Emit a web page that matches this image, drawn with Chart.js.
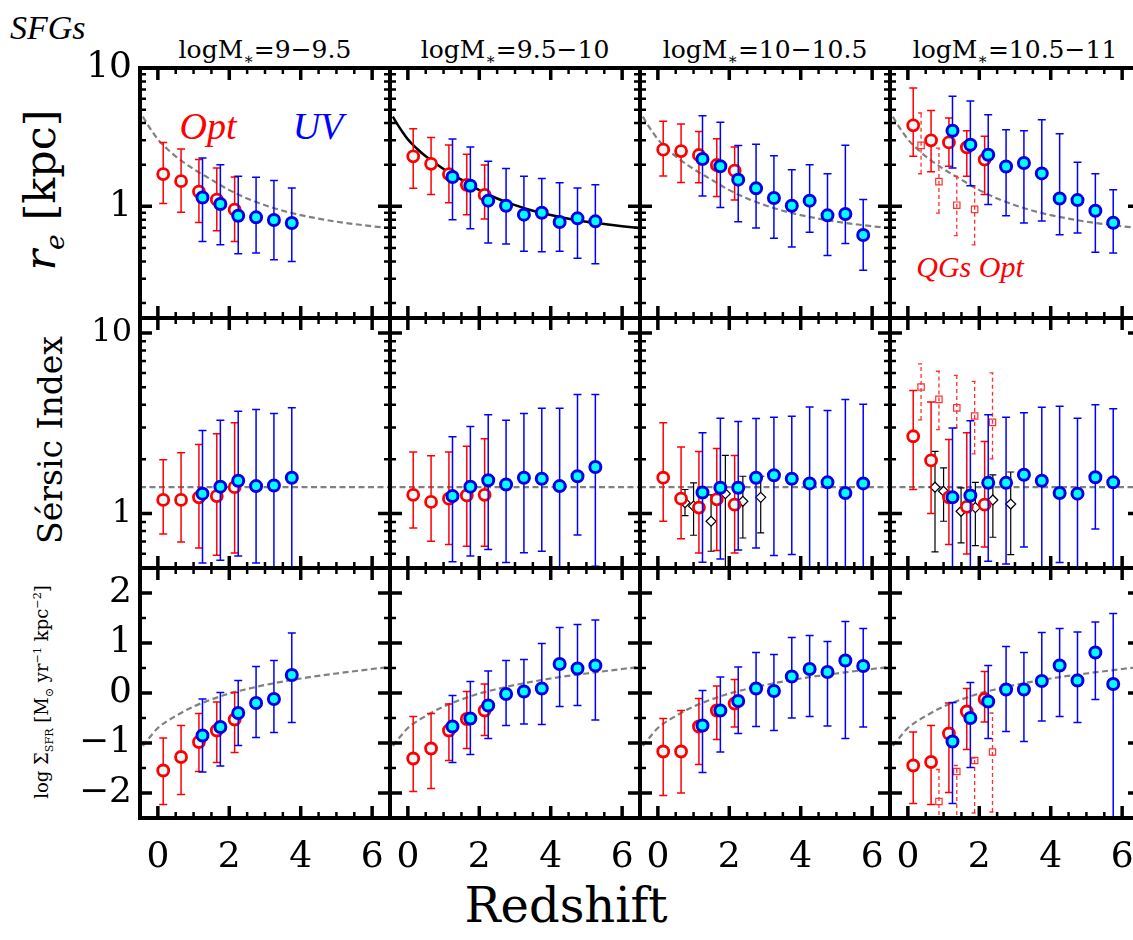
<!DOCTYPE html>
<html>
<head>
<meta charset="utf-8">
<title>SFGs structural evolution</title>
<script src="https://cdn.jsdelivr.net/npm/chart.js@4.4.1/dist/chart.umd.min.js"></script>
<style>
  html, body { margin: 0; padding: 0; background: #fff; }
  #fig { position: relative; width: 1133px; height: 940px; overflow: hidden; font-family: "DejaVu Serif", serif; color: #000; }
  #fig canvas { position: absolute; }
  .txt { position: absolute; white-space: nowrap; line-height: 1; }
  .mid { transform: translate(-50%, -50%); }
  .rot { transform: translate(-50%, -50%) rotate(-90deg); }
  sub, sup { font-size: 0.62em; line-height: 0; }
</style>
</head>
<body>
<div id="fig">
  <div class="txt" style="left:10px;top:9px;font:italic 34px 'Liberation Serif'">SFGs</div>
  <div class="txt rot" style="left:40px;top:190px;font-size:43px"><i>r</i><sub><i>e</i></sub> [kpc]</div>
  <div class="txt rot" style="left:50px;top:440px;font-size:33px">Sérsic Index</div>
  <div class="txt rot" style="left:42px;top:692px;font-size:18px">log Σ<sub>SFR</sub> [M<sub>⊙</sub> yr<sup>−1</sup> kpc<sup>−2</sup>]</div>
  <div class="txt" style="left:566px;top:881px;font-size:48px;transform:translateX(-50%)">Redshift</div>
  <div class="txt mid" style="left:208px;top:126px;font:italic 38px 'Liberation Serif';color:#ff0000">Opt</div>
  <div class="txt mid" style="left:318px;top:126px;font:italic 38px 'Liberation Serif';color:#0000ff">UV</div>
  <div class="txt mid" style="left:970px;top:267px;font:italic 30px 'Liberation Serif';color:#ff0000">QGs Opt</div>
</div>
<script>

/* =========================
   DATA
========================= */

const massLo = ["9", "9.5", "10", "10.5"];
const massHi = ["9.5", "10", "10.5", "11"];

// redshift of each bin
const zOpt = [0.15, 0.65, 1.15, 1.65, 2.15];
const zUV = [1.25, 1.75, 2.25, 2.75, 3.25, 3.75, 4.25, 4.75, 5.25, 5.75];
const zQG = [0.37, 0.87, 1.37, 1.87, 2.37];
const zDia = [0.76, 1.0, 1.49, 1.89, 2.38, 2.88];

// each entry: [value, lower end of error bar, upper end of error bar]

// r_e [kpc]
const reOpt1 = [[1.71, 1.05, 2.90], [1.52, 0.905, 2.60], [1.28, 0.766, 2.18], [1.12, 0.667, 1.89], [0.946, 0.558, 1.63]];
const reUV1 = [[1.16, 0.558, 2.24], [1.04, 0.528, 2.00], [0.856, 0.455, 1.65], [0.833, 0.46, 1.62], [0.797, 0.412, 1.54], [0.758, 0.40, 1.36]];
const reOpt2 = [[2.30, 1.35, 3.64], [2.03, 1.22, 3.15], [1.71, 1.06, 2.78], [1.43, 0.871, 2.38], [1.21, 0.81, 1.99]];
const reUV2 = [[1.63, 0.80, 3.07], [1.41, 0.69, 2.69], [1.10, 0.543, 2.12], [1.01, 0.534, 1.88], [0.871, 0.473, 1.65], [0.90, 0.47, 1.59], [0.77, 0.473, 1.48], [0.819, 0.421, 1.36], [0.779, 0.385, 1.43]];
const reOpt3 = [[2.57, 1.66, 4.12], [2.51, 1.49, 3.94], [2.35, 1.48, 3.47], [1.99, 1.18, 3.08], [1.81, 1.11, 2.69]];
const reUV3 = [[2.20, 1.19, 4.52], [1.95, 0.983, 4.05], [1.56, 0.775, 2.75], [1.35, 0.697, 2.81], [1.15, 0.587, 2.32], [1.01, 0.508, 1.84], [1.10, 0.649, 2.00], [0.861, 0.442, 1.72], [0.88, 0.54, 2.76], [0.621, 0.345, 1.12]];
const reOpt4 = [[3.85, 2.30, 7.17], [3.00, 1.78, 4.94], [2.90, 1.95, 4.35], [2.67, 1.65, 3.52], [2.18, 1.22, 3.21]];
const reUV4 = [[3.52, 1.89, 6.24], [2.79, 1.41, 5.77], [2.36, 1.03, 4.60], [1.94, 0.856, 3.58], [2.06, 0.758, 3.52], [1.73, 0.783, 4.23], [1.14, 0.624, 3.35], [1.11, 0.641, 2.08], [0.93, 0.465, 1.72], [0.762, 0.46, 1.32]];
const reQG4 = [[2.76, 1.72, 4.73], [1.51, 0.895, 2.64], [1.02, 0.614, 1.65], [0.951, 0.527, 1.41], null];

// Sersic index
const nOpt1 = [[1.19, 0.772, 1.99], [1.19, 0.697, 2.17], [1.23, 0.646, 2.41], [1.25, 0.588, 2.77], [1.40, 0.606, 3.18]];
const nUV1 = [[1.29, 0.533, 2.88], [1.41, 0.552, 3.29], [1.52, 0.583, 3.69], [1.42, 0.533, 3.77], [1.43, 0.45, 3.58], [1.58, 0.45, 3.86]];
const nOpt2 = [[1.27, 0.833, 2.19], [1.16, 0.703, 2.09], [1.21, 0.674, 2.19], [1.26, 0.659, 2.36], [1.27, 0.659, 2.60]];
const nUV2 = [[1.25, 0.542, 2.66], [1.41, 0.583, 3.04], [1.53, 0.632, 3.53], [1.45, 0.536, 3.29], [1.58, 0.608, 3.58], [1.56, 0.619, 3.83], [1.42, 0.45, 3.83], [1.61, 0.762, 4.56], [1.81, 0.511, 4.56]];
const nOpt3 = [[1.58, 0.907, 3.18], [1.21, 0.727, 2.34], [1.08, 0.606, 2.21], [1.20, 0.624, 2.29], [1.12, 0.606, 2.10]];
const nUV3 = [[1.31, 0.538, 2.80], [1.39, 0.561, 3.37], [1.39, 0.629, 3.23], [1.58, 0.646, 3.36], [1.63, 0.586, 3.42], [1.56, 0.593, 3.46], [1.47, 0.45, 3.89], [1.49, 0.45, 3.72], [1.30, 0.45, 4.28], [1.47, 0.45, 4.03]];
const nDia3 = [[1.15, 0.975, 1.36], [1.10, 0.759, 1.48], [0.907, 0.619, 1.27], [1.29, 0.45, 2.10], [1.17, 0.733, 1.61], [1.23, 0.782, 1.61]];
const nOpt4 = [[2.68, 1.36, 4.80], [1.97, 1.00, 4.15], [1.23, 0.674, 2.57], [1.09, 0.598, 2.80], [1.12, 0.654, 2.51]];
const nUV4 = [[1.23, 0.45, 2.98], [1.26, 0.45, 3.27], [1.48, 0.545, 3.53], [1.48, 0.526, 3.42], [1.64, 0.654, 3.62], [1.52, 0.45, 3.88], [1.30, 0.536, 3.93], [1.29, 0.45, 3.37], [1.59, 0.822, 4.01], [1.49, 0.45, 3.80]];
const nQG4 = [[5.02, 3.30, 6.74], [4.29, 2.92, 6.14], [3.85, 2.98, 5.83], [3.47, 2.14, 5.40], [3.20, 2.01, 6.01]];
const nDia4 = [[1.40, 0.614, 2.21], [1.33, 0.907, 1.79], [1.03, 0.688, 1.39], [1.08, 0.665, 1.49], [1.19, 0.74, 1.64], [1.13, 0.593, 1.70]];

// log Sigma_SFR
const sOpt1 = [[-1.55, -2.23, -0.90], [-1.28, -2.03, -0.65], [-0.98, -1.57, -0.41], [-0.75, -1.39, -0.18], [-0.53, -1.19, 0.01]];
const sUV1 = [[-0.85, -1.58, -0.12], [-0.68, -1.46, 0.01], [-0.40, -1.05, 0.25], [-0.20, -0.89, 0.53], [-0.12, -0.79, 0.65], [0.36, -0.59, 1.20]];
const sOpt2 = [[-1.31, -1.97, -0.47], [-1.11, -1.91, -0.41], [-0.75, -1.35, -0.22], [-0.52, -1.11, 0.03], [-0.35, -0.85, 0.18]];
const sUV2 = [[-0.67, -1.39, -0.05], [-0.51, -1.23, 0.23], [-0.25, -0.91, 0.44], [-0.02, -0.65, 0.65], [0.03, -0.62, 0.67], [0.09, -0.63, 0.99], [0.58, -0.27, 1.31], [0.49, -0.25, 1.37], [0.55, -0.54, 1.46]];
const sOpt3 = [[-1.17, -2.05, -0.51], [-1.17, -2.00, -0.35], [-0.67, -1.43, -0.11], [-0.35, -0.93, 0.14], [-0.21, -0.68, 0.27]];
const sUV3 = [[-0.65, -1.59, 0.05], [-0.35, -1.18, 0.32], [-0.16, -0.81, 0.52], [0.09, -0.67, 0.81], [0.04, -0.75, 0.77], [0.33, -0.50, 1.11], [0.48, -0.47, 1.15], [0.42, -0.66, 1.03], [0.65, -0.91, 1.43], [0.54, -0.68, 1.29]];
const sOpt4 = [[-1.45, -2.21, -0.78], [-1.38, -2.23, -0.65], [-0.81, -1.99, -0.20], [-0.37, -1.13, 0.09], [-0.12, -0.58, 0.43]];
const sUV4 = [[-0.97, -2.21, -0.19], [-0.50, -1.49, 0.21], [-0.17, -0.91, 0.55], [0.07, -0.77, 0.93], [0.07, -0.97, 0.81], [0.24, -0.56, 1.21], [0.55, -0.47, 1.29], [0.25, -0.59, 1.22], [0.81, -0.13, 1.42], [0.18, -3.0, 1.59]];
const sQG4 = [null, [-2.17, -3.0, -1.53], [-1.57, -3.0, -1.45], [-1.35, -2.40, -1.30], [-1.18, -2.38, -0.40]];

// reference relations
const refZ = [-0.42, -0.3, -0.15, 0, 0.25, 0.5, 1, 1.5, 2, 2.5, 3, 3.5, 4, 4.5, 5, 5.5, 6, 6.5];
const refRe = [4.45, 3.95, 3.45, 3.05, 2.62, 2.3, 1.86, 1.56, 1.31, 1.14, 1.02, 0.93, 0.865, 0.815, 0.775, 0.745, 0.718, 0.695];
const refNZ = [-0.5, 6.5];
const refN = [1.4, 1.4];
const refSfrZ = [-0.42, -0.3, -0.15, 0, 0.5, 1, 1.5, 2, 2.5, 3, 4, 5, 6, 6.5];
const refSfr = [-1.06, -0.95, -0.82, -0.7, -0.46, -0.27, -0.13, -0.01, 0.08, 0.16, 0.29, 0.39, 0.48, 0.52];

// axis ticks
const xLabels = [0, 2, 4, 6];
const xMinor = [0.5, 1, 1.5, 2.5, 3, 3.5, 4.5, 5, 5.5];
const logMinorLo = [0.2, 0.3, 0.4, 0.5, 0.6, 0.7, 0.8, 0.9];
const logMinorHi = [2, 3, 4, 5, 6, 7, 8, 9];
const sfrLabels = [-2, -1, 0, 1, 2];
const sfrMinor = [-1.5, -0.5, 0.5, 1.5];


/* =========================
   LAYOUT
========================= */

const PX = [140, 390, 640, 890];
const PY = [68, 318, 568];
const W = 250, H = 250, PAD = 30, L = 110, B = 60;

const rowsCfg = [
    { type: "logarithmic", min: 0.156, max: 10, labels: [1, 10], minor: logMinorLo.concat(logMinorHi), size: 36, curve: [refZ, refRe] },
    { type: "logarithmic", min: 0.5, max: 12.1, labels: [1, 10], minor: logMinorLo.slice(4).concat(logMinorHi), size: 32, curve: [refNZ, refN] },
    { type: "linear", min: -2.5, max: 2.5, labels: sfrLabels, minor: sfrMinor, size: 36, curve: [refSfrZ, refSfr] }
];

const panelSeries = [
    [{ opt: reOpt1, uv: reUV1 }, { opt: reOpt2, uv: reUV2, solid: true }, { opt: reOpt3, uv: reUV3 }, { opt: reOpt4, uv: reUV4, qg: reQG4 }],
    [{ opt: nOpt1, uv: nUV1 }, { opt: nOpt2, uv: nUV2 }, { opt: nOpt3, uv: nUV3, dia: nDia3 }, { opt: nOpt4, uv: nUV4, qg: nQG4, dia: nDia4 }],
    [{ opt: sOpt1, uv: sUV1 }, { opt: sOpt2, uv: sUV2 }, { opt: sOpt3, uv: sUV3 }, { opt: sOpt4, uv: sUV4, qg: sQG4 }]
];

const optStyle = { pointStyle: "circle", pointRadius: 5.5, pointBorderWidth: 2.8, pointBorderColor: "#ff0000", pointBackgroundColor: "#e6fafa", errColor: "#ff0000", errWidth: 1.5, cap: 4, order: 2 };
const uvStyle = { pointStyle: "circle", pointRadius: 5.5, pointBorderWidth: 3, pointBorderColor: "#0000e6", pointBackgroundColor: "#00ffff", errColor: "#0000ff", errWidth: 1.5, cap: 4, order: 1 };
const qgStyle = { pointStyle: "rect", pointRadius: 4.5, pointBorderWidth: 1.2, pointBorderColor: "#ff3030", pointBackgroundColor: "rgba(255,255,255,0)", errColor: "#ff3030", errWidth: 1.3, errDash: [4, 3], cap: 3, order: 3 };
const diaStyle = { pointStyle: "rectRot", pointRadius: 5, pointBorderWidth: 1.2, pointBorderColor: "#000", pointBackgroundColor: "#fff", errColor: "#000", errWidth: 1.2, cap: 3.5, order: 4 };


/* =========================
   PLUGINS
========================= */

const errorBars = {
    id: "errorBars",
    beforeDatasetDraw(chart, args) {
        const ds = chart.data.datasets[args.index];
        if (!ds.errColor) return;
        const { ctx, chartArea: a, scales: { x, y } } = chart;
        ctx.save();
        ctx.beginPath();
        ctx.rect(a.left, a.top, a.right - a.left, a.bottom - a.top);
        ctx.clip();
        ctx.strokeStyle = ds.errColor;
        ctx.lineWidth = ds.errWidth;
        ctx.setLineDash(ds.errDash || []);
        ds.data.forEach(p => {
            const px = x.getPixelForValue(p.x);
            const lo = y.getPixelForValue(p.lo);
            const hi = y.getPixelForValue(p.hi);
            ctx.beginPath();
            ctx.moveTo(px, lo); ctx.lineTo(px, hi);
            ctx.moveTo(px - ds.cap, lo); ctx.lineTo(px + ds.cap, lo);
            ctx.moveTo(px - ds.cap, hi); ctx.lineTo(px + ds.cap, hi);
            ctx.stroke();
        });
        ctx.restore();
    }
};

const frame = {
    id: "frame",
    afterDraw(chart, args, opts) {
        const { ctx, chartArea: a, scales: { x, y } } = chart;
        ctx.save();
        ctx.strokeStyle = "#000";
        ctx.lineCap = "butt";

        const xt = (vals, len, w) => {
            ctx.lineWidth = w;
            vals.forEach(v => {
                const px = x.getPixelForValue(v);
                ctx.beginPath();
                ctx.moveTo(px, a.bottom); ctx.lineTo(px, a.bottom - len);
                ctx.moveTo(px, a.top); ctx.lineTo(px, a.top + len);
                ctx.stroke();
            });
        };
        const yt = (vals, len, w) => {
            ctx.lineWidth = w;
            vals.forEach(v => {
                const py = y.getPixelForValue(v);
                ctx.beginPath();
                ctx.moveTo(a.left, py); ctx.lineTo(a.left + len, py);
                ctx.moveTo(a.right, py); ctx.lineTo(a.right - len, py);
                ctx.stroke();
            });
        };

        xt(opts.xMajor, 12, 3.5);
        xt(opts.xMinor, 6, 2.5);
        yt(opts.yMajor, 12, 3.5);
        yt(opts.yMinor, 6, 2.5);

        ctx.lineWidth = 4;
        ctx.strokeRect(a.left, a.top, a.right - a.left, a.bottom - a.top);
        ctx.restore();
    }
};


/* =========================
   BUILD PANELS
========================= */

Chart.defaults.font.family = "'DejaVu Serif', serif";
Chart.defaults.color = "#000";

const fig = document.getElementById("fig");

function pointSet(z, rows, style) {
    return Object.assign({
        data: rows.map((r, i) => r && { x: z[i], y: r[0], lo: r[1], hi: r[2] }).filter(Boolean),
        showLine: false
    }, style);
}

function tickText(v) {
    return v < 0 ? "\u2212" + Math.abs(v) : String(v);
}

massLo.forEach((lo, c) => {
    const d = document.createElement("div");
    d.className = "txt";
    d.innerHTML = "logM<sub>\u2217</sub>=" + lo + "\u2212" + massHi[c];
    d.style.cssText = "left:" + (PX[c] + W / 2) + "px;top:37px;font-size:25px;transform:translateX(-50%)";
    fig.appendChild(d);
});

rowsCfg.forEach((rc, r) => {

    panelSeries[r].forEach((ps, c) => {

        const lw = c === 0 ? L : 0;
        const bh = r === 2 ? B : 0;

        const cv = document.createElement("canvas");
        cv.width = W + 2 * PAD + lw;
        cv.height = H + 2 * PAD + bh;
        cv.style.left = (PX[c] - PAD - lw) + "px";
        cv.style.top = (PY[r] - PAD) + "px";
        fig.appendChild(cv);

        const datasets = [];

        datasets.push({
            data: rc.curve[0].map((z, i) => ({ x: z, y: rc.curve[1][i] })),
            showLine: true,
            pointRadius: 0,
            borderColor: ps.solid ? "#000" : "#808080",
            borderWidth: ps.solid ? 2.5 : 2.2,
            borderDash: ps.solid ? [] : [6, 3.5],
            cubicInterpolationMode: "monotone",
            order: 5
        });

        if (ps.dia) datasets.push(pointSet(zDia, ps.dia, diaStyle));
        if (ps.qg) datasets.push(pointSet(zQG, ps.qg, qgStyle));
        datasets.push(pointSet(zOpt, ps.opt, optStyle));
        datasets.push(pointSet(zUV, ps.uv, uvStyle));

        new Chart(cv, {
            type: "scatter",
            data: { datasets },
            plugins: [errorBars, frame],
            options: {
                responsive: false,
                animation: false,
                devicePixelRatio: 1,
                layout: { padding: PAD },
                plugins: {
                    legend: { display: false },
                    tooltip: { enabled: false },
                    frame: {
                        xMajor: xLabels,
                        xMinor: xMinor,
                        yMajor: rc.labels,
                        yMinor: rc.minor
                    }
                },
                scales: {
                    x: {
                        type: "linear",
                        bounds: "data",
                        min: -0.5,
                        max: 6.5,
                        grid: { display: false, drawTicks: false },
                        border: { display: false },
                        ticks: {
                            display: r === 2,
                            autoSkip: false,
                            maxRotation: 0,
                            padding: 18,
                            font: { size: 36 },
                            callback: tickText
                        },
                        afterBuildTicks: s => { s.ticks = xLabels.map(v => ({ value: v })); },
                        afterFit: s => {
                            s.height = bh;
                            s.paddingLeft = s.paddingRight = s.paddingTop = s.paddingBottom = 0;
                        }
                    },
                    y: {
                        type: rc.type,
                        bounds: "data",
                        min: rc.min,
                        max: rc.max,
                        grid: { display: false, drawTicks: false },
                        border: { display: false },
                        ticks: {
                            display: c === 0,
                            autoSkip: false,
                            padding: 8,
                            font: { size: rc.size },
                            callback: tickText
                        },
                        afterBuildTicks: s => { s.ticks = rc.labels.map(v => ({ value: v })); },
                        afterFit: s => {
                            s.width = lw;
                            s.paddingLeft = s.paddingRight = s.paddingTop = s.paddingBottom = 0;
                        }
                    }
                }
            }
        });

    });

});

</script>
</body>
</html>
